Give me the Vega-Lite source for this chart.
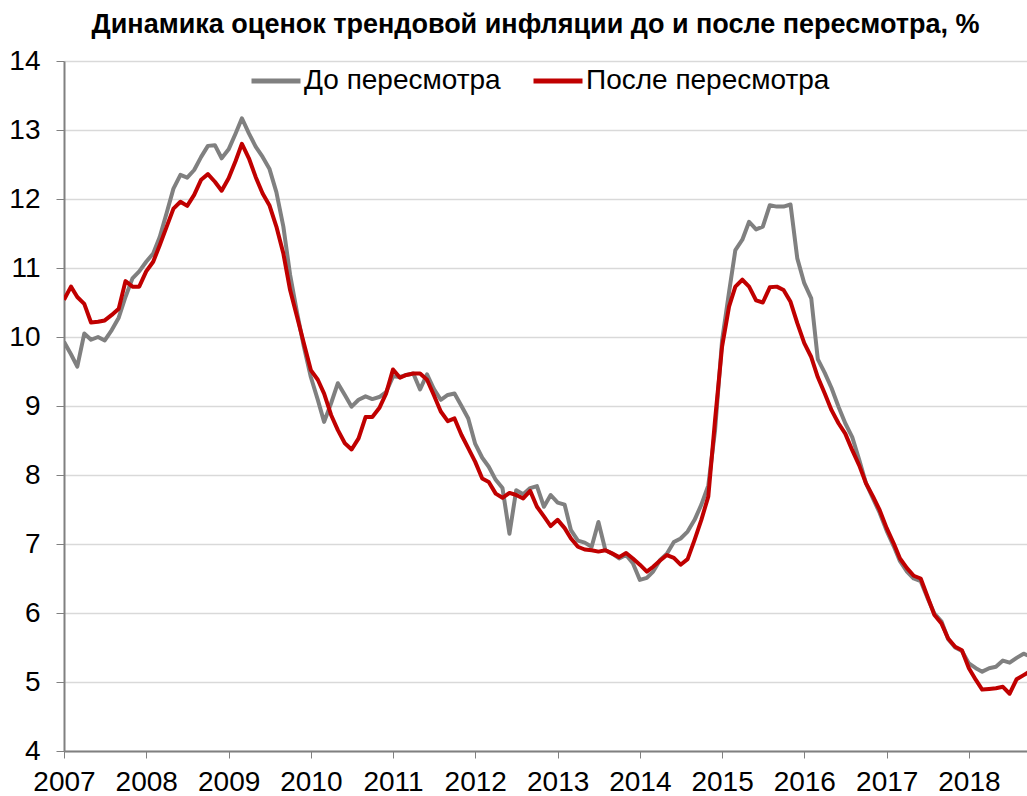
{
  "$schema": "https://vega.github.io/schema/vega-lite/v6.json",
  "width": 963,
  "height": 690,
  "autosize": {"type": "none"},
  "padding": {"left": 64, "top": 61, "right": 0, "bottom": 45},
  "background": "white",
  "title": {
    "text": "Динамика оценок трендовой инфляции до и после пересмотра, %",
    "font": "Liberation Sans Narrow, Liberation Sans, Arial",
    "fontSize": 27,
    "fontWeight": "bold",
    "color": "black",
    "anchor": "middle",
    "offset": 8,
    "dx": -10
  },
  "config": {"view": {"stroke": null}},
  "data": {
    "values": [
      {"d": "2007-01", "g": 9.93, "r": 10.54},
      {"d": "2007-02", "g": 9.75, "r": 10.73},
      {"d": "2007-03", "g": 9.57, "r": 10.58},
      {"d": "2007-04", "g": 10.05, "r": 10.48},
      {"d": "2007-05", "g": 9.96, "r": 10.21},
      {"d": "2007-06", "g": 10.0, "r": 10.22},
      {"d": "2007-07", "g": 9.95, "r": 10.24},
      {"d": "2007-08", "g": 10.1, "r": 10.32},
      {"d": "2007-09", "g": 10.28, "r": 10.41},
      {"d": "2007-10", "g": 10.58, "r": 10.81},
      {"d": "2007-11", "g": 10.85, "r": 10.73},
      {"d": "2007-12", "g": 10.95, "r": 10.73},
      {"d": "2008-01", "g": 11.09, "r": 10.95},
      {"d": "2008-02", "g": 11.21, "r": 11.09},
      {"d": "2008-03", "g": 11.45, "r": 11.33},
      {"d": "2008-04", "g": 11.8, "r": 11.6},
      {"d": "2008-05", "g": 12.15, "r": 11.86},
      {"d": "2008-06", "g": 12.35, "r": 11.96},
      {"d": "2008-07", "g": 12.31, "r": 11.9},
      {"d": "2008-08", "g": 12.42, "r": 12.06},
      {"d": "2008-09", "g": 12.61, "r": 12.28},
      {"d": "2008-10", "g": 12.77, "r": 12.36},
      {"d": "2008-11", "g": 12.78, "r": 12.25},
      {"d": "2008-12", "g": 12.59, "r": 12.12},
      {"d": "2009-01", "g": 12.72, "r": 12.3},
      {"d": "2009-02", "g": 12.95, "r": 12.55},
      {"d": "2009-03", "g": 13.17, "r": 12.8},
      {"d": "2009-04", "g": 12.95, "r": 12.59},
      {"d": "2009-05", "g": 12.76, "r": 12.32},
      {"d": "2009-06", "g": 12.61, "r": 12.08},
      {"d": "2009-07", "g": 12.44, "r": 11.91},
      {"d": "2009-08", "g": 12.1, "r": 11.6},
      {"d": "2009-09", "g": 11.6, "r": 11.21},
      {"d": "2009-10", "g": 10.9, "r": 10.68},
      {"d": "2009-11", "g": 10.35, "r": 10.29},
      {"d": "2009-12", "g": 9.86, "r": 9.91},
      {"d": "2010-01", "g": 9.42, "r": 9.52},
      {"d": "2010-02", "g": 9.09, "r": 9.38},
      {"d": "2010-03", "g": 8.77, "r": 9.18},
      {"d": "2010-04", "g": 9.04, "r": 8.87},
      {"d": "2010-05", "g": 9.33, "r": 8.65},
      {"d": "2010-06", "g": 9.16, "r": 8.46},
      {"d": "2010-07", "g": 8.99, "r": 8.37},
      {"d": "2010-08", "g": 9.09, "r": 8.53},
      {"d": "2010-09", "g": 9.14, "r": 8.84},
      {"d": "2010-10", "g": 9.1, "r": 8.84},
      {"d": "2010-11", "g": 9.13, "r": 8.97},
      {"d": "2010-12", "g": 9.2, "r": 9.18},
      {"d": "2011-01", "g": 9.43, "r": 9.53},
      {"d": "2011-02", "g": 9.42, "r": 9.41},
      {"d": "2011-03", "g": 9.45, "r": 9.45},
      {"d": "2011-04", "g": 9.47, "r": 9.47},
      {"d": "2011-05", "g": 9.24, "r": 9.47},
      {"d": "2011-06", "g": 9.46, "r": 9.38},
      {"d": "2011-07", "g": 9.25, "r": 9.16},
      {"d": "2011-08", "g": 9.09, "r": 8.92},
      {"d": "2011-09", "g": 9.16, "r": 8.78},
      {"d": "2011-10", "g": 9.18, "r": 8.82},
      {"d": "2011-11", "g": 9.0, "r": 8.58},
      {"d": "2011-12", "g": 8.82, "r": 8.39},
      {"d": "2012-01", "g": 8.45, "r": 8.19},
      {"d": "2012-02", "g": 8.25, "r": 7.95},
      {"d": "2012-03", "g": 8.12, "r": 7.9},
      {"d": "2012-04", "g": 7.93, "r": 7.73},
      {"d": "2012-05", "g": 7.81, "r": 7.67},
      {"d": "2012-06", "g": 7.15, "r": 7.74},
      {"d": "2012-07", "g": 7.78, "r": 7.71},
      {"d": "2012-08", "g": 7.72, "r": 7.66},
      {"d": "2012-09", "g": 7.81, "r": 7.77},
      {"d": "2012-10", "g": 7.84, "r": 7.54},
      {"d": "2012-11", "g": 7.54, "r": 7.4},
      {"d": "2012-12", "g": 7.71, "r": 7.26},
      {"d": "2013-01", "g": 7.6, "r": 7.35},
      {"d": "2013-02", "g": 7.57, "r": 7.23},
      {"d": "2013-03", "g": 7.2, "r": 7.08},
      {"d": "2013-04", "g": 7.05, "r": 6.96},
      {"d": "2013-05", "g": 7.02, "r": 6.92},
      {"d": "2013-06", "g": 6.96, "r": 6.91},
      {"d": "2013-07", "g": 7.32, "r": 6.89},
      {"d": "2013-08", "g": 6.91, "r": 6.91},
      {"d": "2013-09", "g": 6.86, "r": 6.86},
      {"d": "2013-10", "g": 6.79, "r": 6.81},
      {"d": "2013-11", "g": 6.84, "r": 6.87},
      {"d": "2013-12", "g": 6.72, "r": 6.79},
      {"d": "2014-01", "g": 6.48, "r": 6.7},
      {"d": "2014-02", "g": 6.51, "r": 6.6},
      {"d": "2014-03", "g": 6.6, "r": 6.67},
      {"d": "2014-04", "g": 6.77, "r": 6.76},
      {"d": "2014-05", "g": 6.86, "r": 6.84},
      {"d": "2014-06", "g": 7.03, "r": 6.8},
      {"d": "2014-07", "g": 7.08, "r": 6.7},
      {"d": "2014-08", "g": 7.18, "r": 6.78},
      {"d": "2014-09", "g": 7.35, "r": 7.06},
      {"d": "2014-10", "g": 7.57, "r": 7.35},
      {"d": "2014-11", "g": 7.85, "r": 7.69},
      {"d": "2014-12", "g": 8.65, "r": 8.8},
      {"d": "2015-01", "g": 9.95, "r": 9.86},
      {"d": "2015-02", "g": 10.65, "r": 10.44},
      {"d": "2015-03", "g": 11.26, "r": 10.73},
      {"d": "2015-04", "g": 11.41, "r": 10.83},
      {"d": "2015-05", "g": 11.67, "r": 10.73},
      {"d": "2015-06", "g": 11.56, "r": 10.53},
      {"d": "2015-07", "g": 11.6, "r": 10.5},
      {"d": "2015-08", "g": 11.91, "r": 10.72},
      {"d": "2015-09", "g": 11.89, "r": 10.73},
      {"d": "2015-10", "g": 11.89, "r": 10.68},
      {"d": "2015-11", "g": 11.92, "r": 10.51},
      {"d": "2015-12", "g": 11.14, "r": 10.2},
      {"d": "2016-01", "g": 10.78, "r": 9.91},
      {"d": "2016-02", "g": 10.56, "r": 9.71},
      {"d": "2016-03", "g": 9.68, "r": 9.42},
      {"d": "2016-04", "g": 9.48, "r": 9.18},
      {"d": "2016-05", "g": 9.26, "r": 8.94},
      {"d": "2016-06", "g": 8.99, "r": 8.75},
      {"d": "2016-07", "g": 8.75, "r": 8.6},
      {"d": "2016-08", "g": 8.55, "r": 8.36},
      {"d": "2016-09", "g": 8.22, "r": 8.14},
      {"d": "2016-10", "g": 7.88, "r": 7.88},
      {"d": "2016-11", "g": 7.66, "r": 7.69},
      {"d": "2016-12", "g": 7.45, "r": 7.49},
      {"d": "2017-01", "g": 7.19, "r": 7.23},
      {"d": "2017-02", "g": 6.97, "r": 7.01},
      {"d": "2017-03", "g": 6.75, "r": 6.79},
      {"d": "2017-04", "g": 6.6, "r": 6.65},
      {"d": "2017-05", "g": 6.5, "r": 6.54},
      {"d": "2017-06", "g": 6.46, "r": 6.5},
      {"d": "2017-07", "g": 6.22, "r": 6.24},
      {"d": "2017-08", "g": 5.99, "r": 5.97},
      {"d": "2017-09", "g": 5.88, "r": 5.85},
      {"d": "2017-10", "g": 5.62, "r": 5.63},
      {"d": "2017-11", "g": 5.5, "r": 5.51},
      {"d": "2017-12", "g": 5.45, "r": 5.46},
      {"d": "2018-01", "g": 5.27, "r": 5.2},
      {"d": "2018-02", "g": 5.2, "r": 5.03},
      {"d": "2018-03", "g": 5.15, "r": 4.89},
      {"d": "2018-04", "g": 5.2, "r": 4.9},
      {"d": "2018-05", "g": 5.22, "r": 4.91},
      {"d": "2018-06", "g": 5.31, "r": 4.93},
      {"d": "2018-07", "g": 5.28, "r": 4.83},
      {"d": "2018-08", "g": 5.35, "r": 5.04},
      {"d": "2018-09", "g": 5.41, "r": 5.1},
      {"d": "2018-10", "g": 5.37, "r": 5.16}
    ]
  },
  "transform": [{"fold": ["g", "r"], "as": ["s", "v"]}],
  "mark": {"type": "line", "strokeWidth": 4, "clip": true, "strokeJoin": "round"},
  "encoding": {
    "x": {
      "field": "d",
      "type": "temporal",
      "scale": {
        "type": "utc",
        "domain": [
          {"year": 2007, "month": 1, "date": 1, "utc": true},
          {"year": 2018, "month": 9, "date": 16, "utc": true}
        ]
      },
      "axis": {
        "title": null,
        "format": "%Y",
        "formatType": "utc",
        "tickCount": {"interval": "year", "step": 1},
        "grid": false,
        "domainColor": "#808080",
        "domainWidth": 2,
        "tickColor": "#808080",
        "tickWidth": 1,
        "tickSize": 7,
        "labelFont": "Liberation Sans Narrow, Liberation Sans, Arial",
        "labelFontSize": 28,
        "labelColor": "black",
        "labelPadding": 10,
        "labelOverlap": false,
        "labelFlush": false
      }
    },
    "y": {
      "field": "v",
      "type": "quantitative",
      "scale": {"domain": [4, 14], "nice": false, "zero": false},
      "axis": {
        "title": null,
        "values": [4, 5, 6, 7, 8, 9, 10, 11, 12, 13, 14],
        "grid": true,
        "gridColor": "#d9d9d9",
        "gridWidth": 1.5,
        "domainColor": "#808080",
        "domainWidth": 2,
        "tickColor": "#808080",
        "tickWidth": 1,
        "tickSize": 8,
        "labelFont": "Liberation Sans Narrow, Liberation Sans, Arial",
        "labelFontSize": 28,
        "labelColor": "black",
        "labelPadding": 16
      }
    },
    "color": {
      "field": "s",
      "type": "nominal",
      "scale": {"domain": ["g", "r"], "range": ["#808080", "#C00000"]},
      "legend": {
        "title": null,
        "orient": "none",
        "legendX": 185,
        "legendY": -7,
        "direction": "horizontal",
        "symbolType": "stroke",
        "symbolStrokeWidth": 5,
        "symbolSize": 2401,
        "labelFont": "Liberation Sans Narrow, Liberation Sans, Arial",
        "labelFontSize": 28,
        "labelColor": "black",
        "labelOffset": 1,
        "columnPadding": 22,
        "labelLimit": 400,
        "labelExpr": "datum.value == 'g' ? 'До пересмотра' : 'После пересмотра'"
      }
    }
  }
}
